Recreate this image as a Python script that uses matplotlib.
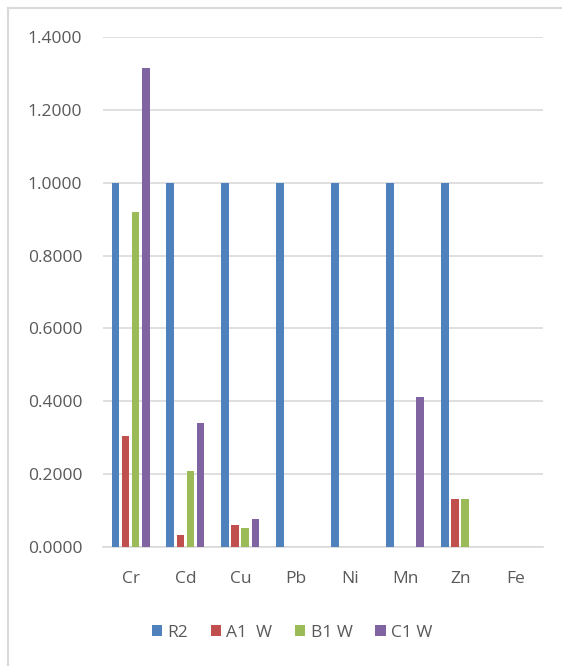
import numpy as np
import matplotlib
matplotlib.use('Agg')
import matplotlib.pyplot as plt
from matplotlib.lines import Line2D

# Элементы и серии
elements = ['Cr', 'Cd', 'Cu', 'Pb', 'Ni', 'Mn', 'Zn', 'Fe']
series_names = ['R2', 'A1  W', 'B1 W', 'C1 W']
r2 = [1.0, 1.0, 1.0, 1.0, 1.0, 1.0, 1.0, 0.0]
a1_w = [0.305, 0.033, 0.060, 0.0, 0.0, 0.0, 0.131, 0.0]
b1_w = [0.921, 0.208, 0.052, 0.0, 0.0, 0.0, 0.132, 0.0]
c1_w = [1.315, 0.340, 0.077, 0.0, 0.0, 0.413, 0.0, 0.0]
colors = ['#4F81BD', '#C0504D', '#9BBB59', '#8064A2']

plt.rcParams['font.family'] = ['Open Sans', 'DejaVu Sans']
text_color = '#595959'
fs = 12.5

fig = plt.figure(figsize=(5.62, 6.66), dpi=100)
ax = fig.add_axes([0.1833, 0.1787, 0.7827, 0.7657])

x = np.arange(len(elements))
pitch = 0.182
width = 0.145
for i, (vals, name, col) in enumerate(zip([r2, a1_w, b1_w, c1_w], series_names, colors)):
    ax.bar(x + (i - 1.5) * pitch, vals, width=width, color=col, label=name, zorder=3)

ax.set_xlim(-0.5, len(elements) - 0.5)
ax.set_ylim(0, 1.4)
ax.set_yticks(np.arange(0, 1.41, 0.2))
ax.set_yticklabels([f'{v:.4f}' for v in np.arange(0, 1.41, 0.2)])
ax.set_xticks(x)
ax.set_xticklabels(elements)
ax.tick_params(axis='both', length=0, labelsize=fs, colors=text_color)
ax.tick_params(axis='y', pad=15)
ax.tick_params(axis='x', pad=17)
ax.grid(axis='y', color='#D9D9D9', linewidth=1.2, zorder=0)
for side in ['top', 'right', 'left']:
    ax.spines[side].set_visible(False)
ax.spines['bottom'].set_color('#D9D9D9')
ax.spines['bottom'].set_linewidth(1.2)

ax.legend(loc='center', bbox_to_anchor=(292 / 562, 1 - 633 / 666),
          bbox_transform=fig.transFigure, ncol=4, frameon=False,
          fontsize=fs, labelcolor=text_color, handlelength=0.6,
          handleheight=0.6, handletextpad=0.3, columnspacing=1.3)

# Рамка области диаграммы (видны только левая и верхняя стороны)
fig.add_artist(Line2D([8 / 562, 8 / 562], [0, 1 - 8 / 666], transform=fig.transFigure,
                      color='#D9D9D9', linewidth=1.5))
fig.add_artist(Line2D([8 / 562, 1], [1 - 8 / 666, 1 - 8 / 666], transform=fig.transFigure,
                      color='#D9D9D9', linewidth=1.5))

fig.savefig('out.png', dpi=100)
